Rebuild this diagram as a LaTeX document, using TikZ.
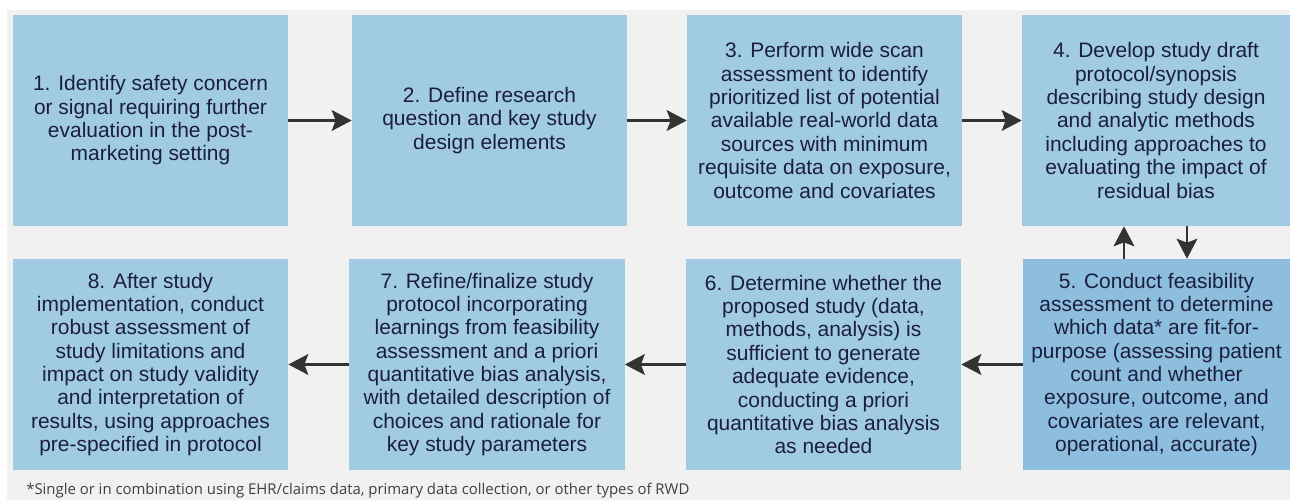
\documentclass[tikz,border=0pt]{standalone}
\usepackage{fontspec}
\setmainfont{Liberation Sans}
\newfontfamily\notefont{Open Sans}
\usetikzlibrary{arrows.meta}
\definecolor{stepblue}{RGB}{160,203,227}
\definecolor{stepdark}{RGB}{141,190,221}
\definecolor{steptext}{RGB}{28,30,62}
\definecolor{pagegray}{RGB}{241,241,241}
\definecolor{notegray}{RGB}{64,64,64}

\begin{document}
\begin{tikzpicture}[x=0.025cm, y=-0.025cm,
    stepbox/.style={rectangle, fill=stepblue, inner sep=0pt, minimum width=6.875cm, minimum height=5.275cm, align=center, text=steptext, font=\fontsize{14.9}{16.6}\selectfont},
    flow/.style={-{Stealth[length=0.5cm, width=0.52cm, inset=0.1cm]}, line width=1.6pt, draw=black!80}
]
\useasboundingbox (0,0) rectangle (1290,500);
\fill[pagegray] (7,10) rectangle (1290,500);

% top row
\node[stepbox] (s1) at (150.5,120.5) {1. Identify safety concern\\or signal requiring further\\evaluation in the post-\\marketing setting};
\node[stepbox] (s2) at (489.5,120.5) {2. Define research\\question and key study\\design elements};
\node[stepbox] (s3) at (824.5,120.5) {3. Perform wide scan\\assessment to identify\\prioritized list of potential\\available real-world data\\sources with minimum\\requisite data on exposure,\\outcome and covariates};
\node[stepbox, minimum width=6.7cm] (s4) at (1156,120.5) {4. Develop study draft\\protocol/synopsis\\describing study design\\and analytic methods\\including approaches to\\evaluating the impact of\\residual bias};

% bottom row
\node[stepbox, fill=stepdark, minimum width=6.675cm] (s5) at (1156.5,364.5) {5. Conduct feasibility\\assessment to determine\\which data* are fit-for-\\purpose (assessing patient\\count and whether\\exposure, outcome, and\\covariates are relevant,\\operational, accurate)};
\node[stepbox] (s6) at (823.5,364.5) {6. Determine whether the\\proposed study (data,\\methods, analysis) is\\sufficient to generate\\adequate evidence,\\conducting a priori\\quantitative bias analysis\\as needed};
\node[stepbox] (s7) at (487,364.5) {7. Refine/finalize study\\protocol incorporating\\learnings from feasibility\\assessment and a priori\\quantitative bias analysis,\\with detailed description of\\choices and rationale for\\key study parameters};
\node[stepbox] (s8) at (150.5,364.5) {8. After study\\implementation, conduct\\robust assessment of\\study limitations and\\impact on study validity\\and interpretation of\\results, using approaches\\pre-specified in protocol};

\node[font=\notefont\fontsize{10.6}{12}\selectfont, text=notegray, anchor=base west, inner sep=0pt] (note) at (26,494) {*Single or in combination using EHR/claims data, primary data collection, or other types of RWD};

% connectors
\coordinate (upx) at (1124,0);
\coordinate (downx) at (1187,0);
\draw[flow] (s1) -- (s2);
\draw[flow] (s2) -- (s3);
\draw[flow] (s3) -- (s4);
\draw[flow] (s5.north -| upx) -- (s4.south -| upx);
\draw[flow] (s4.south -| downx) -- (s5.north -| downx);
\draw[flow] (s5) -- (s6);
\draw[flow] (s6) -- (s7);
\draw[flow] (s7) -- (s8);
\end{tikzpicture}
\end{document}
